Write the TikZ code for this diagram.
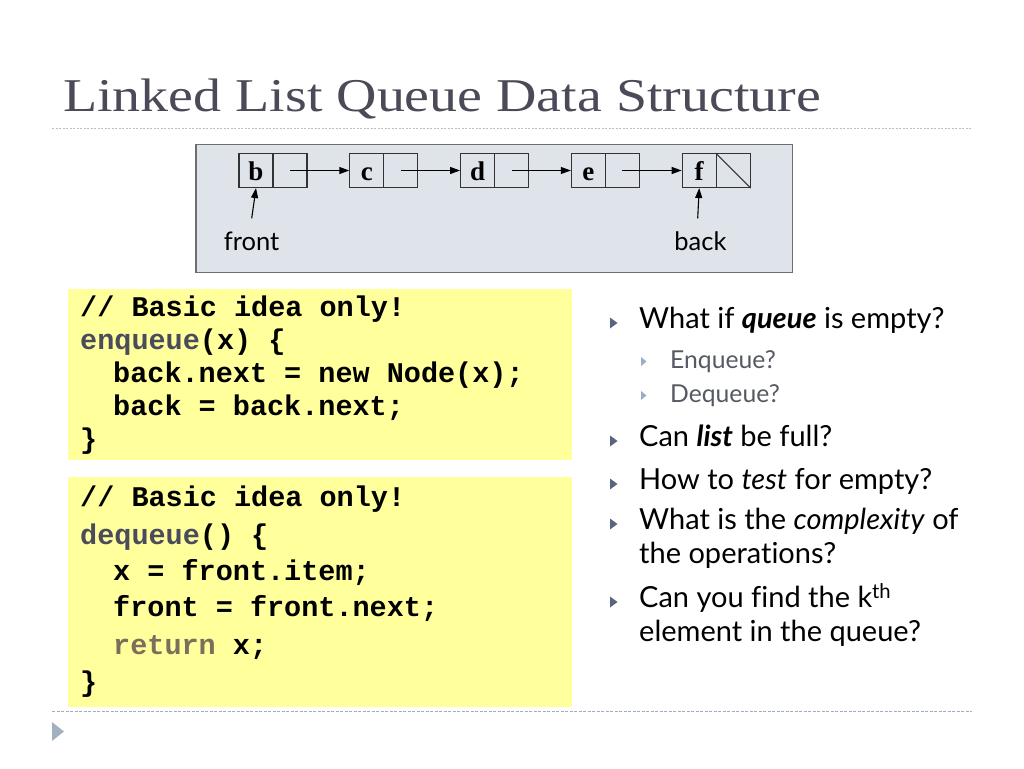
\documentclass[tikz,border=0pt]{standalone}
\usepackage{fontspec}
\usepackage{graphicx}
\setmainfont{Liberation Serif}
\newfontfamily\gill[Ligatures=NoCommon]{Lato}
\newfontfamily\mono{Liberation Mono}
\usetikzlibrary{arrows.meta}
\definecolor{titlec}{HTML}{4A4A58}
\definecolor{framebg}{HTML}{DFE3EA}
\definecolor{framec}{HTML}{6E6E6E}
\definecolor{codebg}{HTML}{FFFF9C}
\definecolor{kw}{HTML}{4A4C5C}
\definecolor{retc}{HTML}{7D6E5C}
\definecolor{bul}{HTML}{5A6480}
\definecolor{subbul}{HTML}{9AAEC4}
\definecolor{subtxt}{HTML}{555A62}
\definecolor{botline}{HTML}{9AAEC4}
\tikzset{
  cell/.style={draw=black!80, line width=1.1pt, minimum width=34pt, minimum height=34pt, inner sep=0pt, text height=19pt, text depth=0pt, font=\fontsize{27}{27}\selectfont\bfseries},
  ptr/.style={draw=black, line width=1.1pt, -{Triangle[length=10pt,width=7pt]}},
  lbl/.style={font=\gill\fontsize{25.5}{25.5}\selectfont, inner sep=0pt},
  codeln/.style={anchor=base west, inner sep=0pt, font=\mono\bfseries\fontsize{28.5}{28.5}\selectfont},
  btxt/.style={anchor=base west, inner sep=0pt, font=\gill\fontsize{29}{29}\selectfont},
  stxt/.style={anchor=base west, inner sep=0pt, text=subtxt, font=\gill\fontsize{24.7}{24.7}\selectfont},
}
\begin{document}
\begin{tikzpicture}[x=1pt,y=-1pt]
\useasboundingbox[fill=white] (0,0) rectangle (1024,768);
% title
\node[anchor=base west, inner sep=0pt, text=titlec, font=\fontsize{47}{47}\selectfont] (title) at (63,111.7) {\scalebox{1.19}[1]{Linked List Queue Data Structure}};
\draw[black!25, line width=1pt, dash pattern=on 2pt off 1.5pt] (52,128.3) -- (972,128.3);
% diagram frame
\draw[fill=framebg, draw=framec, line width=1.4pt] (196,144.7) rectangle (792.5,272.3);
\foreach \n/\t [count=\i from 0] in {b/b,c/c,d/d,e/e,f/f}{
  \node[cell] (\n L) at ({239+17+110.8*\i},170.5) {\t};
  \node[cell] (\n R) at ({239+51+110.8*\i},170.5) {};
}
\draw[black!80, line width=1.1pt] (fR.north west) -- (fR.south east);
\draw[ptr] (bR.center) -- (cL.west);
\draw[ptr] (cR.center) -- (dL.west);
\draw[ptr] (dR.center) -- (eL.west);
\draw[ptr] (eR.center) -- (fL.west);
\node[lbl] (front) at (251.5,241) {front};
\node[lbl] (back) at (700.5,241) {back};
\coordinate (fa) at (251.7,218.3);
\coordinate (ba) at (697.7,218.3);
\draw[ptr] (fa) -- (bL.south);
\draw[ptr] (ba) -- (fL.south);
% code box 1
\fill[codebg] (68,289) rectangle (572,460);
\node[codeln] (e1) at (80,316.5) {// Basic idea only!};
\node[codeln] (e2) at (80,349.5) {\textcolor{kw}{enqueue}(x) \{};
\node[codeln] (e3) at (113,382.5) {back.next = new Node(x);};
\node[codeln] (e4) at (113,415.5) {back = back.next;};
\node[codeln] (e5) at (80,448.5) {\}};
% code box 2
\fill[codebg] (68,477) rectangle (572,707);
\node[codeln] (d1) at (80,506.5) {// Basic idea only!};
\node[codeln] (d2) at (80,544) {\textcolor{kw}{dequeue}() \{};
\node[codeln] (d3) at (113,580.5) {x = front.item;};
\node[codeln] (d4) at (113,616.5) {front = front.next;};
\node[codeln] (d5) at (113,654) {\textcolor{retc}{return} x;};
\node[codeln] (d6) at (80,691.5) {\}};
% bottom line and triangle
\draw[botline, line width=1pt, dash pattern=on 3pt off 1.5pt] (52,711) -- (972,711);
\fill[subbul!90!black!80] (52,722) -- (64,731.5) -- (52,741) -- cycle;
% bullets
\foreach \y in {328.5,446.5,489.5,529.5,607.5}{
  \fill[bul] (610,{\y-11}) -- (617.5,{\y-5.5}) -- (610,\y) -- cycle;
}
\foreach \y in {368,402}{
  \fill[subbul] (641,{\y-11}) -- (646.5,{\y-6.5}) -- (641,{\y-2}) -- cycle;
}
\node[btxt] (q1) at (639,328.5) {What if \textbf{\textit{queue}} is empty?};
\node[stxt] (s1) at (670,368) {Enqueue?};
\node[stxt] (s2) at (670,402) {Dequeue?};
\node[btxt] (q2) at (639,446.5) {Can \textbf{\textit{list}} be full?};
\node[btxt] (q3) at (639,489.5) {How to \textit{test} for empty?};
\node[btxt] (q4) at (639,529.5) {What is the \textit{complexity} of};
\node[btxt] (q4b) at (639,563.5) {the operations?};
\node[btxt] (q5) at (639,607.5) {Can you find the k\textsuperscript{th}};
\node[btxt] (q5b) at (639,641.5) {element in the queue?};
\end{tikzpicture}
\end{document}
